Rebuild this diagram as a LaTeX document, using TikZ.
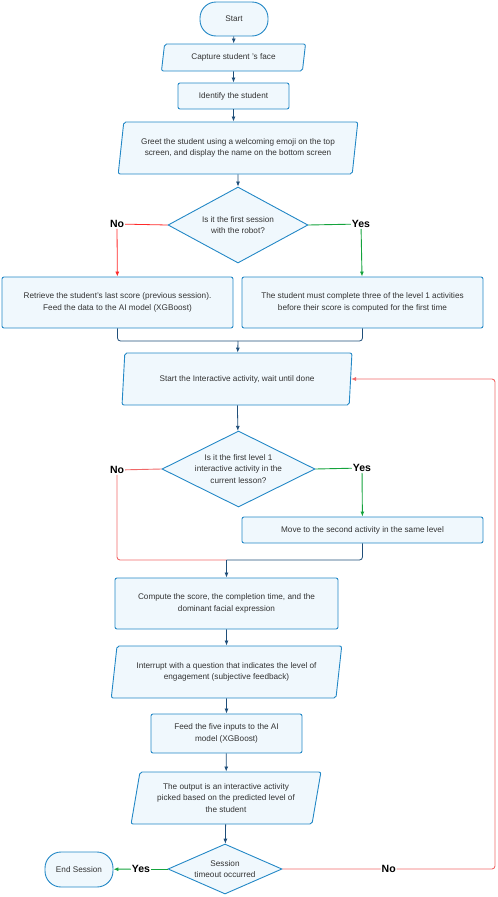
\documentclass[tikz,border=0pt]{standalone}
\usepackage{fontspec}
\setmainfont{Liberation Sans}
\usepackage{tikz}
\usetikzlibrary{positioning,calc,arrows.meta,shapes.geometric}

\definecolor{boxline}{HTML}{2388C6}
\definecolor{boxfill}{HTML}{F0F8FD}
\definecolor{flowcol}{HTML}{1F4E79}
\definecolor{nocol}{HTML}{FF2A2A}
\definecolor{nocoltwo}{HTML}{F06868}
\definecolor{yescol}{HTML}{14A33C}
\definecolor{txtcol}{HTML}{333333}

\tikzset{
  every node/.style={text=txtcol},
  shapebase/.style={draw=boxline,fill=boxfill,line width=0.9pt,align=center,
    font=\fontsize{8.2}{11.3}\selectfont,inner sep=0pt},
  procbox/.style={shapebase,rectangle,rounded corners=2pt},
  iobox/.style={shapebase,trapezium,trapezium left angle=76,trapezium right angle=104,
    trapezium stretches=true,rounded corners=2pt},
  termbox/.style={shapebase,rectangle,rounded corners=16pt,minimum width=68,minimum height=34},
  decision/.style={shapebase,diamond},
  qtext/.style={align=center,font=\fontsize{8.2}{11.3}\selectfont},
  lbl/.style={font=\fontsize{10.5}{12}\selectfont\bfseries,text=black,inner sep=1pt},
  flow/.style={->,draw=flowcol,line width=0.8pt},
  joinline/.style={draw=flowcol,line width=0.8pt,rounded corners=3pt},
  noline/.style={draw=nocol,line width=0.8pt},
  nolinetwo/.style={draw=nocoltwo,line width=0.9pt,rounded corners=3pt},
  yesline/.style={draw=yescol,line width=0.9pt},
  >={Latex[length=5pt,width=4pt]}
}

\begin{document}
\begin{tikzpicture}[x=1pt,y=-1pt]
\useasboundingbox (0,0) rectangle (498,897);

% main column
\node [termbox] (start) at (234,19) {Start};
\node [iobox,minimum width=145,minimum height=27] (capture) at (233.5,57.5) {Capture student 's face};
\node [procbox,minimum width=111,minimum height=26] (identify) at (233.5,96) {Identify the student};
\node [iobox,minimum width=240,minimum height=52] (greet) at (238,148)
  {Greet the student using a welcoming emoji on the top\\screen, and display the name on the bottom screen};
\node [decision,minimum width=140,minimum height=76,
  label={[qtext]center:Is it the first session\\with the robot?}] (q1) at (238,225) {};

% first branch
\node [lbl] (no1) at (117,224) {No};
\node [lbl] (yes1) at (361,224) {Yes};
\node [procbox,minimum width=231,minimum height=51] (retrieve) at (117.5,302.5)
  {Retrieve the student's last score (previous session).\\Feed the data to the AI model (XGBoost)};
\node [procbox,minimum width=241,minimum height=51] (firstrun) at (362.5,302.5)
  {The student must complete three of the level 1 activities\\before their score is computed for the first time};
\coordinate (merge1) at (238,341);

\node [iobox,minimum width=230,minimum height=52] (startint) at (237,379)
  {Start the Interactive activity, wait until done};
\node [decision,minimum width=153,minimum height=76,
  label={[qtext]center:Is it the first level 1\\interactive activity in the\\current lesson?}] (q2) at (238.5,469) {};

% second branch
\node [lbl] (no2) at (117,470) {No};
\node [lbl] (yes2) at (362,468) {Yes};
\node [procbox,minimum width=241,minimum height=26] (move) at (362.5,530)
  {Move to the second activity in the same level};
\coordinate (merge2) at (226.5,560);

\node [procbox,minimum width=223,minimum height=51] (compute) at (226.5,603.5)
  {Compute the score, the completion time, and the\\dominant facial expression};
\node [iobox,minimum width=231,minimum height=52] (interrupt) at (226.5,672)
  {Interrupt with a question that indicates the level of\\engagement (subjective feedback)};
\node [procbox,minimum width=151,minimum height=39] (feed) at (226.5,733.5)
  {Feed the five inputs to the AI\\model (XGBoost)};
\node [iobox,minimum width=190,minimum height=52] (output) at (226,798)
  {The output is an interactive activity\\picked based on the predicted level of\\the student};
\node [decision,minimum width=114,minimum height=50,
  label={[qtext]center:Session\\timeout occurred}] (q3) at (225,869) {};
\node [termbox,minimum height=35] (endsess) at (79,869.5) {End Session};
\node [lbl] (yes3) at (141,869) {Yes};
\coordinate (loopcorner) at (495,869);

% connectors
\draw [flow] (start) -- (capture);
\draw [flow] (capture) -- (identify);
\draw [flow] (identify.south) -- (identify.south |- greet.north);
\draw [flow] (greet) -- (q1);
\draw [noline] (q1.west) -- (no1);
\draw [noline,->] (no1) -- (retrieve);
\draw [yesline] (q1.east) -- (yes1);
\draw [yesline,->] (yes1) -- (firstrun);
\draw [joinline] (retrieve.south) |- (merge1) -| (firstrun.south);
\draw [flow] (merge1) -- (startint);

\draw [flow] (startint) -- (q2);
\draw [nolinetwo] (q2.west) -- (no2);
\draw [nolinetwo] (no2) |- (merge2);
\draw [yesline] (q2.east) -- (yes2);
\draw [yesline,->] (yes2) -- (move);
\draw [joinline] (move.south) |- (merge2);
\draw [flow] (merge2) -- (compute);

\draw [flow] (compute) -- (interrupt);
\draw [flow] (interrupt) -- (feed);
\draw [flow] (feed) -- (output);
\draw [flow] (output) -- (q3);
\draw [yesline] (q3.west) -- (yes3);
\draw [yesline,->] (yes3) -- (endsess);
\draw [nolinetwo,->] (q3.east) -- node [lbl,fill=white] (no3) {No} (loopcorner) |- (startint.east);
\end{tikzpicture}
\end{document}
